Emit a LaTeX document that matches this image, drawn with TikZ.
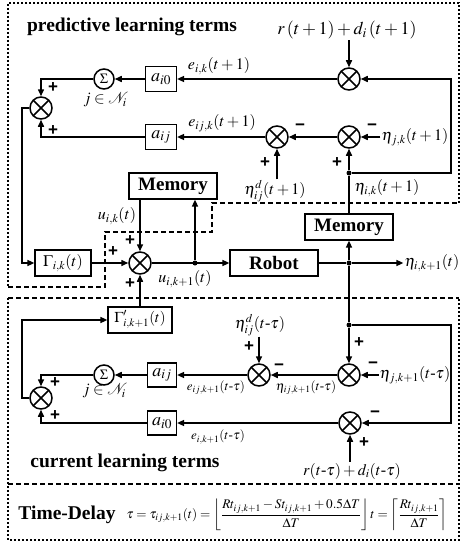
\documentclass[tikz,border=0pt]{standalone}
\usepackage{amsmath}
\usepackage{mathptmx}
\usepackage[no-math]{fontspec}
\setmainfont{Liberation Serif}
\newfontfamily\sgnfont{Liberation Sans}
\usetikzlibrary{arrows.meta,calc}
\tikzset{
 conn/.style={line width=1.5pt},
 arr/.style={conn,-{Triangle[length=7pt,width=6pt]}},
 mult/.style={circle,draw,line width=1.5pt,minimum size=22pt,inner sep=0pt,
   path picture={\draw[line width=1.5pt] (path picture bounding box.north west)--(path picture bounding box.south east)
   (path picture bounding box.north east)--(path picture bounding box.south west);}},
 sigm/.style={circle,draw,line width=1.5pt,minimum size=20pt,inner sep=0pt,font=\fontsize{14}{14}\selectfont},
 blk/.style={draw,line width=1.2pt,inner sep=0pt},
 memblk/.style={blk,minimum width=88pt,minimum height=26pt,font=\bfseries\fontsize{19}{19}\selectfont},
 ablk/.style={blk,minimum width=31pt,minimum height=25pt,font=\fontsize{18}{18}\selectfont},
 jdot/.style={circle,fill,inner sep=0pt,minimum size=5pt},
 lbl/.style={inner sep=1pt,font=\fontsize{16}{16}\selectfont},
 slbl/.style={inner sep=1pt,font=\fontsize{13}{13}\selectfont},
 sgn/.style={inner sep=0pt,font=\sgnfont\bfseries\fontsize{17}{17}\selectfont},
 title/.style={font=\bfseries\fontsize{19.5}{20}\selectfont},
 outerline/.style={line width=2.2pt,dash pattern=on 2pt off 2pt},
 innerline/.style={line width=2pt,dash pattern=on 5pt off 3pt},
}
\begin{document}
\begin{tikzpicture}[x=1pt,y=-1pt]
\useasboundingbox (0,0) rectangle (474,543);
% region frames
\draw[outerline] (459,203) -- (459,3) -- (8,3) -- (8,287);
\draw[innerline] (8,287) -- (105,287) -- (105,232) -- (212,232) -- (212,203) -- (459,203);
\draw[innerline] (8,298) -- (459,298);
\draw[outerline] (8,298) -- (8,540) -- (459,540) -- (459,298);
\draw[innerline] (8,484) -- (459,484);
% titles
\node[title] (tpred) at (132,27) {predictive learning terms};
\node[title] (tcur) at (125,463) {current learning terms};
\node[title] (tdel) at (67,515) {Time-Delay};
\node[font=\fontsize{13.2}{13.2}\selectfont,inner sep=0pt] (form) at (287,515) {$\tau=\tau_{ij,k+1}(t)=\left\lfloor\dfrac{Rt_{ij,k+1}-St_{ij,k+1}+0.5\Delta T}{\Delta T}\right\rfloor t=\left\lceil\dfrac{Rt_{ij,k+1}}{\Delta T}\right\rceil$};
% bend columns
\coordinate (rx) at (451,0);
\coordinate (lx) at (22,0);
% nodes upper
\node[mult] (s1) at (349,79) {};
\node[mult] (s3) at (349,137) {};
\node[mult] (s2) at (277,137) {};
\node[mult] (sl1) at (41,108) {};
\node[sigm] (g1) at (104,79) {$\Sigma$};
\node[ablk] (ai0a) at (161,79) {$a_{i0}$};
\node[ablk] (aija) at (161,137) {$a_{ij}$};
\node[memblk] (mem1) at (173,186) {Memory};
\node[mult] (ms) at (140,263) {};
\node[blk,minimum width=56pt,minimum height=26pt,font=\fontsize{16}{16}\selectfont] (gam1) at (63,263) {$\Gamma_{i,k}(t)$};
\node[memblk] (rob) at (274,263) {Robot};
\node[memblk] (mem2) at (349,227) {Memory};
\node[jdot] (j1) at (195,263) {};
\node[jdot] (j2) at (349,263) {};
\node[jdot] (j3) at (349,173) {};
\node[jdot] (j4) at (349,325) {};
% nodes lower
\node[blk,minimum width=64pt,minimum height=26pt,font=\fontsize{15}{15}\selectfont] (gam2) at (140,320) {$\Gamma'_{i,k+1}(t)$};
\node[mult] (sl2) at (41,398) {};
\node[sigm] (g2) at (104,375) {$\Sigma$};
\node[ablk,minimum width=29pt,minimum height=24pt] (aijb) at (162,375) {$a_{ij}$};
\node[ablk,minimum width=29pt,minimum height=24pt] (ai0b) at (162,423) {$a_{i0}$};
\node[mult] (s5) at (259,375) {};
\node[mult] (s4) at (349,375) {};
\node[mult] (s6) at (350,423) {};
% labels
\node[lbl,font=\fontsize{18}{18}\selectfont] (rtop) at (347,30) {$r\left(t+1\right)+d_i\left(t+1\right)$};
\node[lbl] (eik1) at (219,66) {$e_{i,k}(t+1)$};
\node[lbl] (eijk1) at (222,123) {$e_{ij,k}(t+1)$};
\node[lbl] (etaj1) at (415,137) {$\eta_{j,k}(t+1)$};
\node[lbl] (etad1) at (275,191) {$\eta^{d}_{ij}(t+1)$};
\node[lbl] (etaik) at (387,188) {$\eta_{i,k}(t+1)$};
\node[lbl] (uik) at (117,216) {$u_{i,k}(t)$};
\node[lbl] (uik1) at (185,279) {$u_{i,k+1}(t)$};
\node[lbl] (etaout) at (432,263) {$\eta_{i,k+1}(t)$};
\node[lbl] (n1) at (105,100) {$j\in\mathcal{N}_i$};
\node[lbl] (n2) at (104,391) {$j\in\mathcal{N}_i$};
\node[slbl] (eijb) at (216,388) {$e_{ij,k+1}(t\text{-}\tau)$};
\node[slbl] (eib) at (218,437) {$e_{i,k+1}(t\text{-}\tau)$};
\node[lbl] (etad2) at (260,325) {$\eta^{d}_{ij}(t\text{-}\tau)$};
\node[slbl] (etaijb) at (306,388) {$\eta_{ij,k+1}(t\text{-}\tau)$};
\node[lbl] (etaj2) at (415,375) {$\eta_{j,k+1}(t\text{-}\tau)$};
\node[lbl] (rbot) at (352,471) {$r(t\text{-}\tau)+d_i(t\text{-}\tau)$};
% signs
\node[sgn] (p1) at (53,88) {+};
\node[sgn] (p2) at (53,131) {+};
\node[sgn] (m1) at (372,127) {\char"2212};
\node[sgn] (m2) at (300,127) {\char"2212};
\node[sgn] (p3) at (337,163) {+};
\node[sgn] (p4) at (265,163) {+};
\node[sgn] (p5) at (113,252) {+};
\node[sgn] (p6) at (130,241) {+};
\node[sgn] (p7) at (130,284) {+};
\node[sgn] (p8) at (55,383) {+};
\node[sgn] (p9) at (55,416) {+};
\node[sgn] (p10) at (249,347) {+};
\node[sgn] (m3) at (279,367) {\char"2212};
\node[sgn] (p11) at (359,343) {+};
\node[sgn] (m4) at (373,365) {\char"2212};
\node[sgn] (m5) at (375,414) {\char"2212};
\node[sgn] (p12) at (364,443) {+};
% connectors upper
\draw[arr] (s1 |- rtop.south) -- (s1.north);
\draw[arr] (s1.west) -- (ai0a.east);
\draw[arr] (ai0a.west) -- (g1.east);
\draw[arr] (g1.west) -- (sl1 |- g1) -- (sl1.north);
\draw[arr] (s3.west) -- (s2.east);
\draw[arr] (s2.west) -- (aija.east);
\draw[arr] (aija.west) -- (sl1 |- aija) -- (sl1.south);
\draw[arr] (sl1.west) -- (lx |- sl1) -- (lx |- gam1) -- (gam1.west);
\draw[arr] (etaj1.west) -- (s3.east);
\draw[arr] (s2 |- etad1.north) -- (s2.south);
\draw[arr] (j3) -- (s3.south);
\draw[arr] (j3) -- (rx |- j3) -- (rx |- s1) -- (s1.east);
\draw[conn] (mem2.north) -- (j3);
\draw[arr] (j2) -- (mem2.south);
\draw[arr] (gam1.east) -- (ms.west);
\draw[arr] (ms.east) -- (rob.west);
\draw[arr] (j1) -- (j1 |- mem1.south);
\draw[arr] (ms |- mem1.south) -- (ms.north);
\draw[conn] (rob.east) -- (j2);
\draw[arr] (j2) -- (etaout.west);
% connectors lower
\draw[conn] (j2) -- (j4);
\draw[arr] (j4) -- (s4.north);
\draw[arr] (j4) -- (rx |- j4) -- (rx |- s6) -- (s6.east);
\draw[arr] (gam2.north) -- (ms.south);
\draw[arr] (sl2.west) -- (lx |- sl2) -- (lx |- gam2) -- (gam2.west);
\draw[arr] (g2.west) -- (sl2 |- g2) -- (sl2.north);
\draw[arr] (ai0b.west) -- (sl2 |- ai0b) -- (sl2.south);
\draw[arr] (aijb.west) -- (g2.east);
\draw[arr] (s5.west) -- (aijb.east);
\draw[arr] (s4.west) -- (s5.east);
\draw[arr] (etaj2.west) -- (s4.east);
\draw[arr] (s5 |- etad2.south) -- (s5.north);
\draw[arr] (s6.west) -- (ai0b.east);
\draw[arr] (s6 |- rbot.north) -- (s6.south);
\end{tikzpicture}
\end{document}
